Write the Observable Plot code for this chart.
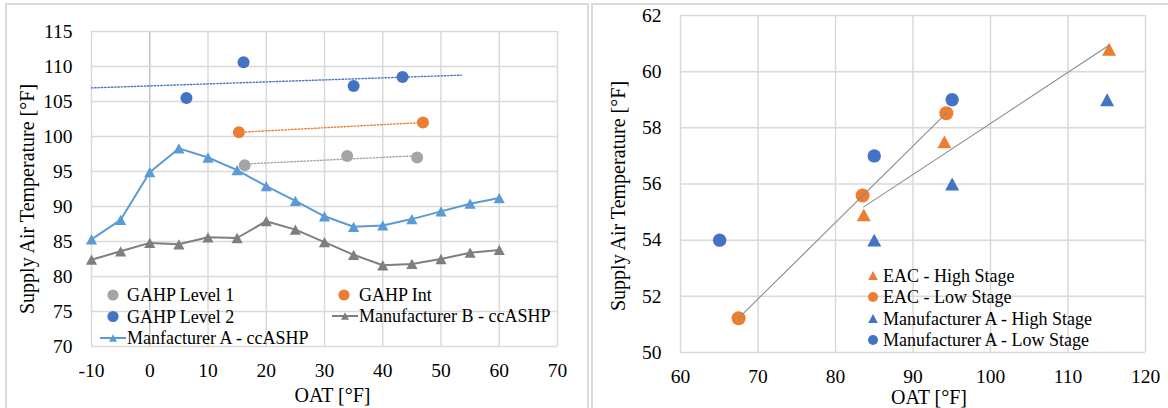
<!DOCTYPE html>
<html>
<head>
<meta charset="utf-8">
<script src="https://cdn.jsdelivr.net/npm/d3@7"></script>
<script src="https://cdn.jsdelivr.net/npm/@observablehq/plot@0.6"></script>
<style>
  html, body { margin: 0; padding: 0; background: #fff; overflow: hidden; }
  #wrap { position: relative; width: 1168px; height: 408px; overflow: hidden; font-family: "Liberation Serif", "Times New Roman", Tinos, "DejaVu Serif", serif; }
  .box { position: absolute; border: 2px solid #dadada; box-sizing: border-box; }
  #left, #right, #legend { position: absolute; top: 0; }
  #left { left: 0; }
  #right { left: 590px; }
  #legend { left: 0; pointer-events: none; }
  svg text { font-family: "Liberation Serif", "Times New Roman", Tinos, "DejaVu Serif", serif; }
</style>
</head>
<body>
<div id="wrap">
  <div class="box" style="left:5px; top:3px; width:584px; height:430px;"></div>
  <div class="box" style="left:591px; top:3px; width:620px; height:430px;"></div>
  <div id="left"></div>
  <div id="right"></div>
  <svg id="legend" width="1168" height="408"></svg>
</div>
<script>
// ---------- Left chart data ----------
const oatL = [-10, -5, 0, 5, 10, 15, 20, 25, 30, 35, 40, 45, 50, 55, 60];
const manfA = [85.3, 88.1, 94.9, 98.3, 97.0, 95.2, 92.9, 90.8, 88.6, 87.1, 87.3, 88.2, 89.3, 90.4, 91.2];
const manfB = [82.4, 83.6, 84.8, 84.6, 85.6, 85.5, 87.9, 86.7, 84.9, 83.1, 81.6, 81.8, 82.5, 83.4, 83.8];
const gahp1X = [16.3, 33.9, 45.9];
const gahp1Y = [95.9, 97.2, 97.0];
const gahp2X = [6.3, 16.1, 35.0, 43.4];
const gahp2Y = [105.5, 110.6, 107.2, 108.5];
const gahpIntX = [15.3, 46.9];
const gahpIntY = [100.6, 102.0];
const gahp2TrendRange = [-10, 53.5]; // trendline forecast extent
const xTicksL = [-10, 0, 10, 20, 30, 40, 50, 60, 70];
const yTicksL = [70, 75, 80, 85, 90, 95, 100, 105, 110, 115];

// ---------- Right chart data ----------
const eacHighX = [83.65, 94.05, 115.3];
const eacHighY = [54.9, 57.5, 60.8];
const eacLowX = [67.5, 83.5, 94.3];
const eacLowY = [51.22, 55.59, 58.52];
const maHighX = [85.0, 95.05, 115.05];
const maHighY = [54.0, 56.0, 59.0];
const maLowX = [65.05, 85.0, 95.05];
const maLowY = [54.0, 57.0, 59.0];
const xTicksR = [60, 70, 80, 90, 100, 110, 120];
const yTicksR = [50, 52, 54, 56, 58, 60, 62];

const C = { blue: "#4472C4", orange: "#ED7D31", gray1: "#A5A5A5", lblue: "#5B9BD5", gray2: "#7F7F7F", grid: "#d9d9d9" };
const FONT = "'Liberation Serif', 'Times New Roman', Tinos, 'DejaVu Serif', serif";

const zip = (xs, ys) => xs.map((x, i) => ({ x, y: ys[i] }));
function fit(xs, ys) {
  const mx = d3.mean(xs), my = d3.mean(ys);
  const b = d3.sum(xs, (x, i) => (x - mx) * (ys[i] - my)) / d3.sum(xs, x => (x - mx) ** 2);
  return x => my + b * (x - mx);
}
function trend(xs, ys, range) {
  const f = fit(xs, ys);
  const r = range || d3.extent(xs);
  return r.map(x => ({ x, y: f(x) }));
}
// Excel-like triangle marker (bbox centred)
const tri = { draw(ctx, size) { const r = Math.sqrt(size / Math.PI); const h = r * 0.92; ctx.moveTo(0, -h); ctx.lineTo(r, h); ctx.lineTo(-r, h); ctx.closePath(); } };
const fmt = d => String(d);
const dotted = { strokeWidth: 1.4, strokeDasharray: "1.4 1.9" };

// ---------- Left plot ----------
const lineA = zip(oatL, manfA), lineB = zip(oatL, manfB);
const left = Plot.plot({
  width: 590, height: 408,
  marginLeft: 91, marginRight: 33, marginTop: 31, marginBottom: 62,
  x: { domain: [-10, 70] },
  y: { domain: [70, 115] },
  style: { fontFamily: FONT, fontSize: "19.5px", color: "#000", background: "none", overflow: "visible" },
  marks: [
    Plot.gridX(xTicksL, { stroke: d => d === 0 ? "#c4c4c4" : C.grid, strokeOpacity: 1, strokeWidth: 1.5 }),
    Plot.gridY(yTicksL, { stroke: C.grid, strokeOpacity: 1, strokeWidth: 1.5 }),
    Plot.axisX(xTicksL, { tickSize: 0, tickPadding: 17, tickFormat: fmt, label: null, fontSize: 19.5 }),
    Plot.axisY(yTicksL, { tickSize: 0, tickPadding: 19, tickFormat: fmt, label: null, fontSize: 19.5 }),
    Plot.text(["OAT [°F]"], { frameAnchor: "bottom", textAnchor: "middle", lineAnchor: "middle", dx: 8, dy: 49, fontSize: 20 }),
    Plot.text(["Supply Air Temperature [°F]"], { frameAnchor: "left", textAnchor: "middle", lineAnchor: "middle", dx: -64, dy: 10, rotate: -90, fontSize: 20 }),
    Plot.line(trend(gahp1X, gahp1Y), { x: "x", y: "y", stroke: C.gray1, ...dotted }),
    Plot.line(trend(gahpIntX, gahpIntY), { x: "x", y: "y", stroke: C.orange, ...dotted }),
    Plot.line(trend(gahp2X, gahp2Y, gahp2TrendRange), { x: "x", y: "y", stroke: C.blue, ...dotted }),
    Plot.line(lineB, { x: "x", y: "y", stroke: C.gray2, strokeWidth: 2 }),
    Plot.dot(lineB, { x: "x", y: "y", symbol: tri, r: 5.6, fill: C.gray2, stroke: null }),
    Plot.line(lineA, { x: "x", y: "y", stroke: C.lblue, strokeWidth: 2 }),
    Plot.dot(lineA, { x: "x", y: "y", symbol: tri, r: 5.6, fill: C.lblue, stroke: null }),
    Plot.dot(zip(gahpIntX, gahpIntY), { x: "x", y: "y", r: 6, fill: C.orange, stroke: null }),
    Plot.dot(zip(gahp2X, gahp2Y), { x: "x", y: "y", r: 6, fill: C.blue, stroke: null }),
    Plot.dot(zip(gahp1X, gahp1Y), { x: "x", y: "y", r: 6, fill: C.gray1, stroke: null })
  ]
});
document.getElementById("left").appendChild(left);

// ---------- Right plot ----------
const right = Plot.plot({
  width: 578, height: 408,
  marginLeft: 90, marginRight: 23, marginTop: 15, marginBottom: 56,
  x: { domain: [60, 120] },
  y: { domain: [50, 62] },
  style: { fontFamily: FONT, fontSize: "19.5px", color: "#000", background: "none", overflow: "visible" },
  marks: [
    Plot.gridX(xTicksR, { stroke: C.grid, strokeOpacity: 1, strokeWidth: 1.5 }),
    Plot.gridY(yTicksR, { stroke: C.grid, strokeOpacity: 1, strokeWidth: 1.5 }),
    Plot.axisX(xTicksR, { tickSize: 0, tickPadding: 17, tickFormat: fmt, label: null, fontSize: 19.5 }),
    Plot.axisY(yTicksR, { tickSize: 0, tickPadding: 19, tickFormat: fmt, label: null, fontSize: 19.5 }),
    Plot.text(["OAT [°F]"], { frameAnchor: "bottom", textAnchor: "middle", lineAnchor: "middle", dx: 16, dy: 45, fontSize: 20 }),
    Plot.text(["Supply Air Temperature [°F]"], { frameAnchor: "left", textAnchor: "middle", lineAnchor: "middle", dx: -62, dy: 12, rotate: -90, fontSize: 20 }),
    Plot.dot(zip(maLowX, maLowY), { x: "x", y: "y", r: 6.7, fill: C.blue, stroke: null }),
    Plot.dot(zip(maHighX, maHighY), { x: "x", y: "y", symbol: tri, r: 7, fill: C.blue, stroke: null }),
    Plot.dot(zip(eacLowX, eacLowY), { x: "x", y: "y", r: 7, fill: C.orange, stroke: null }),
    Plot.dot(zip(eacHighX, eacHighY), { x: "x", y: "y", symbol: tri, r: 7, fill: C.orange, stroke: null }),
    Plot.line(trend(eacLowX, eacLowY), { x: "x", y: "y", stroke: "#8a8a8a", strokeWidth: 1.1 }),
    Plot.line(trend(eacHighX, eacHighY), { x: "x", y: "y", stroke: "#8a8a8a", strokeWidth: 1.1 })
  ]
});
document.getElementById("right").appendChild(right);

// ---------- Legends ----------
const leg = d3.select("#legend");
const triPath = (r) => d3.symbol().type(tri).size(r * r * Math.PI)();
function item(g, cfg) {
  const { mx, y, tx, label, color, kind, r, line } = cfg;
  if (line) g.append("line").attr("x1", line[0]).attr("x2", line[1]).attr("y1", y).attr("y2", y).attr("stroke", color).attr("stroke-width", 2);
  if (kind === "circle") g.append("circle").attr("cx", mx).attr("cy", y).attr("r", r).attr("fill", color);
  else g.append("path").attr("d", triPath(r)).attr("transform", `translate(${mx},${y})`).attr("fill", color);
  g.append("text").attr("x", tx).attr("y", y).attr("dy", "0.34em").style("font-family", FONT).attr("font-size", 18).attr("fill", "#000").text(label);
}
const legL = [
  { mx: 113, y: 295, tx: 127, label: "GAHP Level 1", color: C.gray1, kind: "circle", r: 5.6 },
  { mx: 113, y: 316.5, tx: 127, label: "GAHP Level 2", color: C.blue, kind: "circle", r: 5.6 },
  { mx: 113, y: 338, tx: 127, label: "Manfacturer A - ccASHP", color: C.lblue, kind: "tri", r: 4, line: [100, 126] },
  { mx: 344, y: 295, tx: 359, label: "GAHP Int", color: C.orange, kind: "circle", r: 5.6 },
  { mx: 345, y: 316, tx: 359, label: "Manufacturer B - ccASHP", color: C.gray2, kind: "tri", r: 4, line: [332, 358] }
];
const legR = [
  { mx: 873, y: 275.5, tx: 883, label: "EAC - High Stage", color: C.orange, kind: "tri", r: 4.8 },
  { mx: 873, y: 297, tx: 883, label: "EAC - Low Stage", color: C.orange, kind: "circle", r: 5 },
  { mx: 873, y: 318.5, tx: 883, label: "Manufacturer A - High Stage", color: C.blue, kind: "tri", r: 4.8 },
  { mx: 873, y: 340, tx: 883, label: "Manufacturer A - Low Stage", color: C.blue, kind: "circle", r: 5 }
];
const gL = leg.append("g"), gR = leg.append("g");
legL.forEach(d => item(gL, d));
legR.forEach(d => item(gR, d));
</script>
</body>
</html>
